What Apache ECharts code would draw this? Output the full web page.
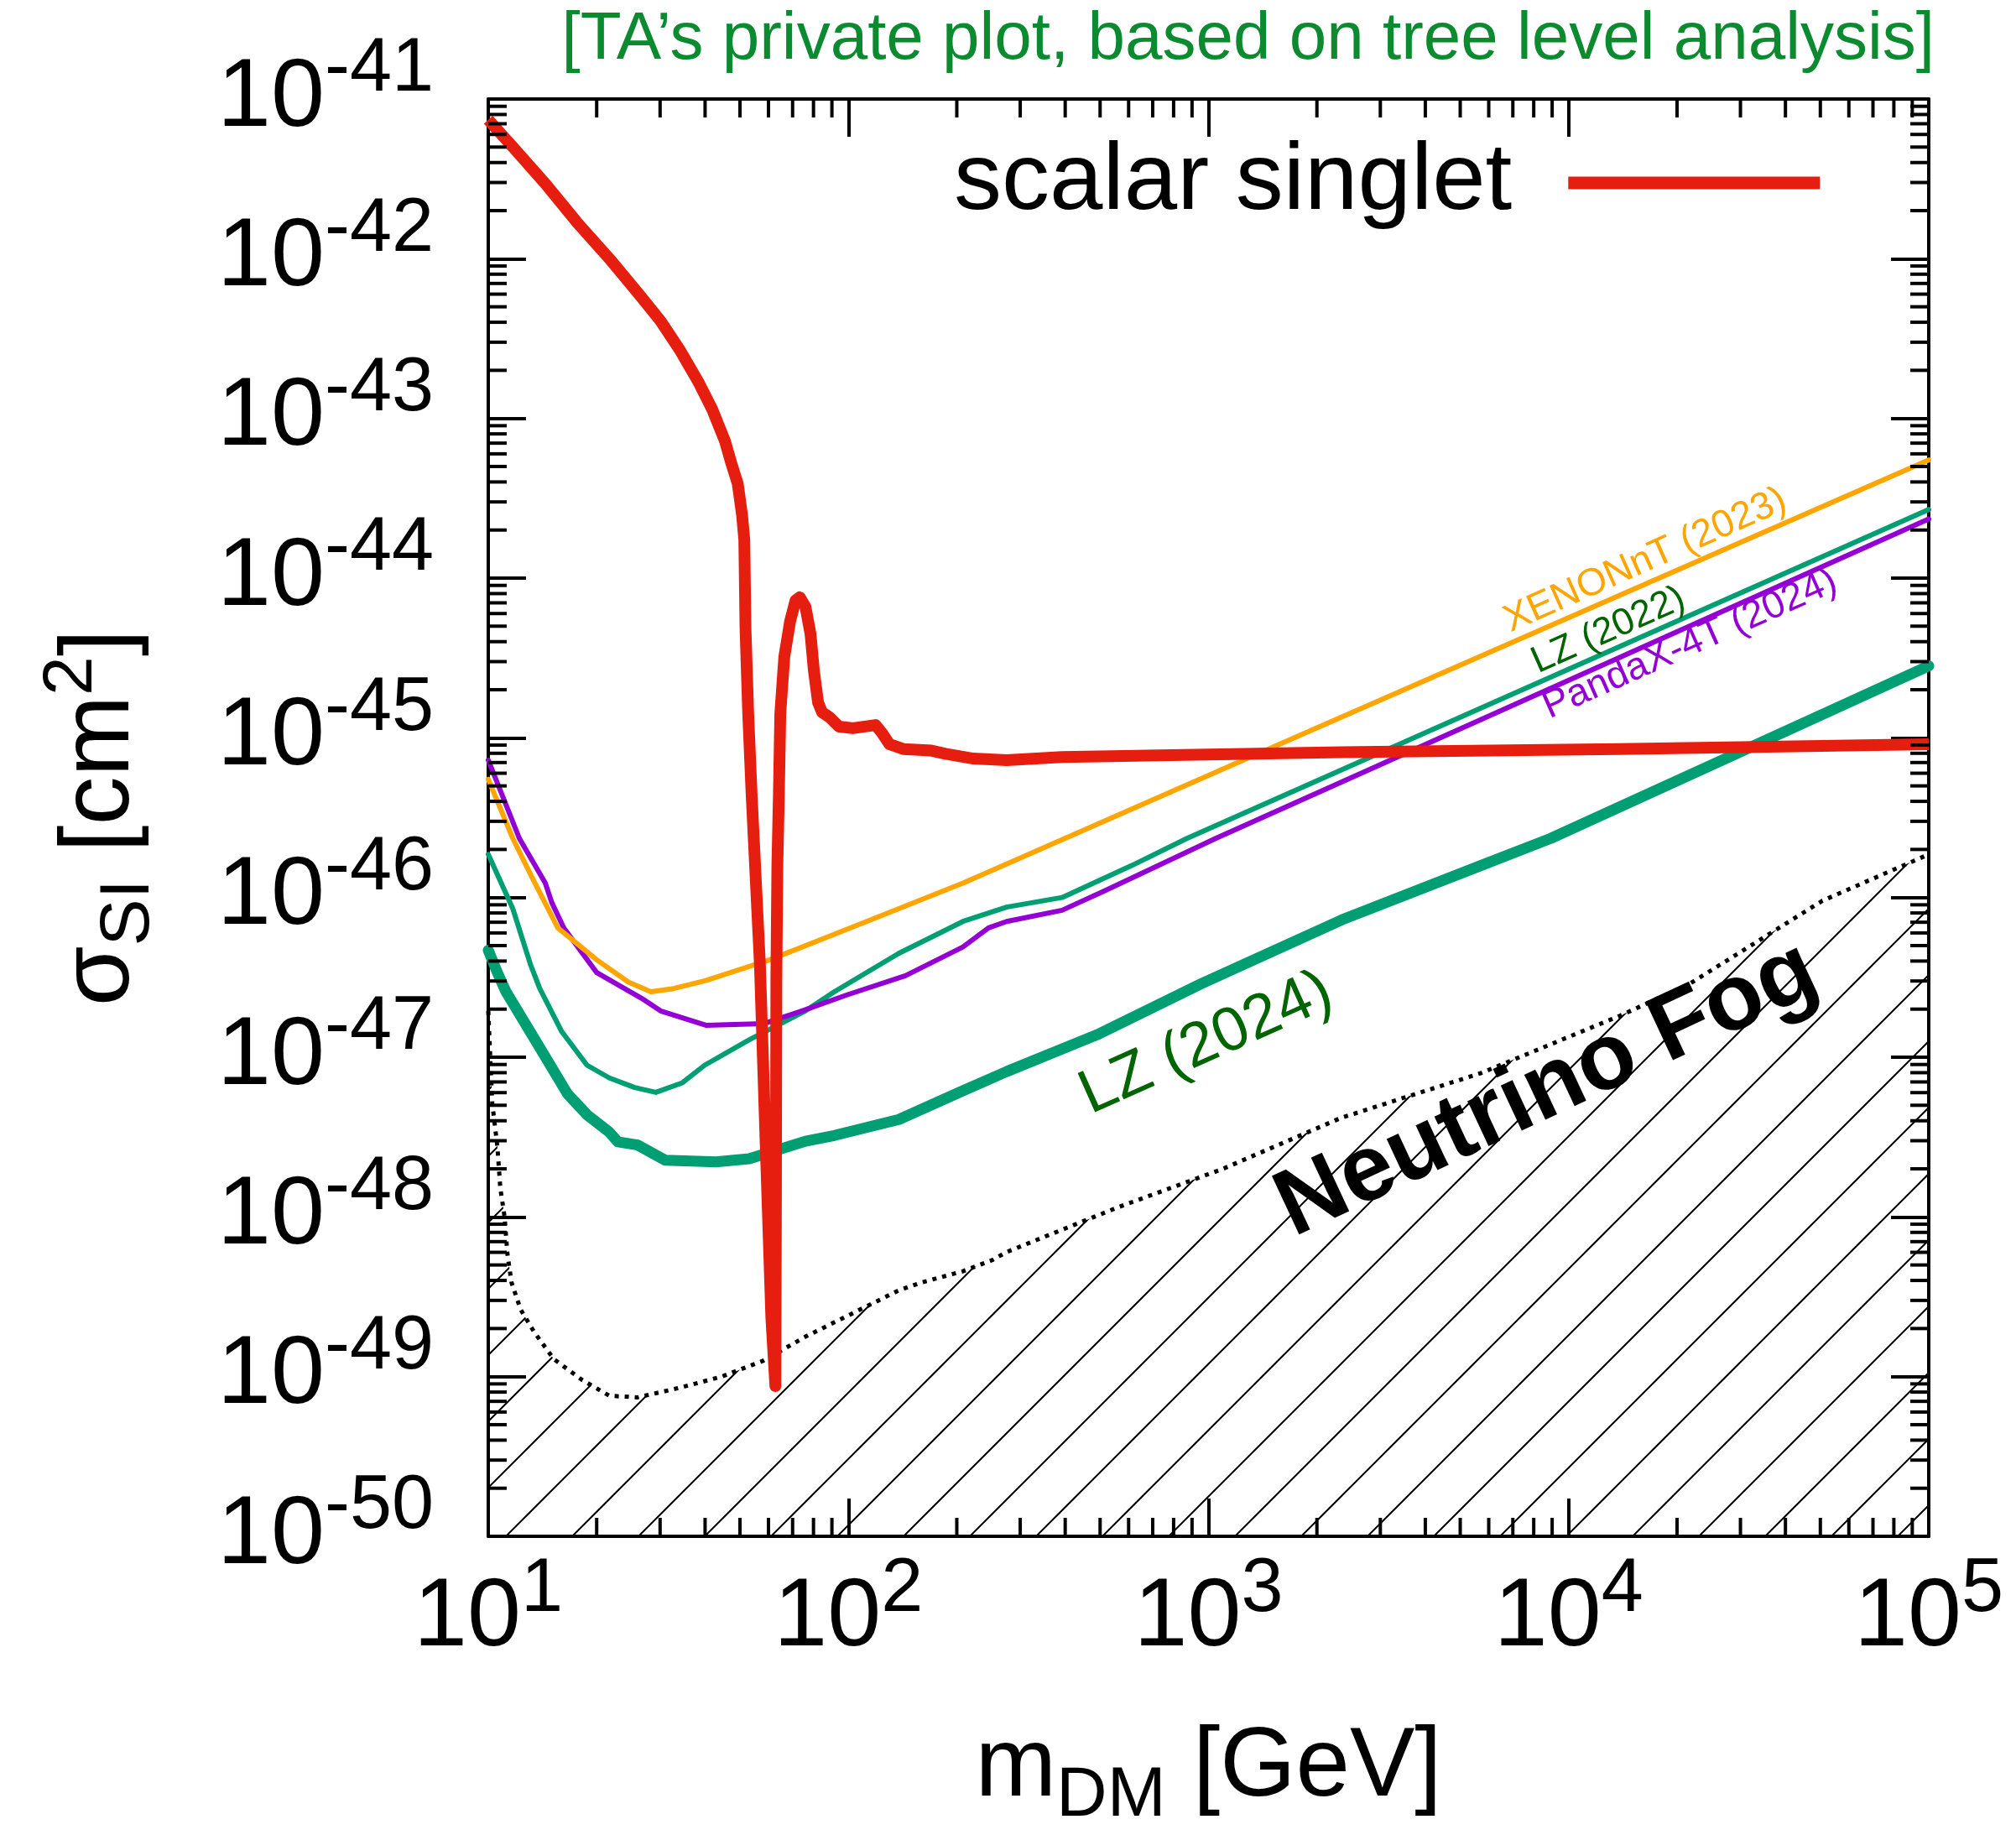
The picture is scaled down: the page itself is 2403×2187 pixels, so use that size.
<!DOCTYPE html>
<html>
<head>
<meta charset="utf-8">
<script src="https://cdn.jsdelivr.net/npm/echarts@6/dist/echarts.min.js"></script>
<style>
html,body{margin:0;padding:0;background:#ffffff;}
#c{width:2403px;height:2187px;}
</style>
</head>
<body>
<div id="c"></div>
<script>
// ---------------- data ----------------
// masses in GeV, cross sections given as log10(sigma / cm^2)
const redMass = [10, 11.7, 14.4, 17.6, 21.7, 26.6, 30.1, 34.0, 38.5, 41.8, 45.4, 47.3, 49.3, 50.7, 51.4, 51.8, 52.7, 53.9, 56.8, 58.9, 61.1, 62.7, 62.9, 63.1, 63.5, 64.1, 64.7, 66.4, 68.9, 71.3, 73.3, 76.0, 78.5, 80.2, 82.4, 84.5, 88.5, 94.2, 103, 119, 124, 130, 142, 170, 186, 222, 275, 392, 731, 2344, 13800, 100000];
const redLogSigma = [-41.13, -41.30, -41.53, -41.77, -42.00, -42.24, -42.39, -42.57, -42.78, -42.94, -43.14, -43.28, -43.41, -43.61, -43.76, -44.32, -44.85, -45.37, -46.42, -47.53, -48.63, -49.06, -48.0, -46.5, -45.8, -45.37, -44.85, -44.49, -44.27, -44.14, -44.12, -44.18, -44.35, -44.58, -44.78, -44.84, -44.87, -44.93, -44.94, -44.92, -44.97, -45.04, -45.07, -45.08, -45.10, -45.13, -45.14, -45.12, -45.11, -45.09, -45.07, -45.04];

const xenonMass = [10, 11.7, 13.2, 15.6, 20.0, 24.5, 28.3, 32.7, 40.2, 60.5, 91.4, 138, 208, 275, 1306, 100000];
const xenonLogSigma = [-45.26, -45.63, -45.87, -46.19, -46.39, -46.53, -46.59, -46.57, -46.52, -46.39, -46.23, -46.07, -45.91, -45.79, -45.12, -43.26];

const pandaMass = [10, 12.2, 14.4, 15.0, 16.2, 20.0, 26.6, 30.1, 40.2, 58.1, 74.3, 99.1, 144, 208, 245, 275, 392, 513, 1047, 100000];
const pandaLogSigma = [-45.14, -45.63, -45.91, -46.03, -46.19, -46.47, -46.63, -46.71, -46.80, -46.79, -46.71, -46.61, -46.49, -46.31, -46.19, -46.15, -46.08, -45.96, -45.63, -43.63];

const lz2022Mass = [10, 11.7, 13.1, 13.9, 16.0, 18.8, 21.7, 25.5, 29.2, 34.6, 39.9, 53.1, 76.0, 91.4, 138, 208, 275, 392, 612, 871, 100000];
const lz2022LogSigma = [-45.73, -46.07, -46.42, -46.57, -46.84, -47.05, -47.13, -47.19, -47.22, -47.16, -47.05, -46.89, -46.71, -46.59, -46.35, -46.15, -46.06, -46.00, -45.80, -45.63, -43.57];

const lz2024Mass = [10, 10.6, 11.2, 13.9, 16.6, 18.8, 21.7, 22.9, 26.0, 31.0, 42.9, 53.1, 76.0, 91.4, 138, 208, 275, 490, 955, 2344, 5702, 8913, 100000];
const lz2024LogSigma = [-46.33, -46.47, -46.59, -46.94, -47.23, -47.36, -47.47, -47.53, -47.55, -47.645, -47.655, -47.636, -47.526, -47.49, -47.39, -47.21, -47.09, -46.86, -46.54, -46.14, -45.80, -45.63, -44.55];

const fogMass = [10.0, 10.26, 10.6, 10.8, 11.1, 11.3, 11.6, 12.3, 13.4, 15.2, 18.2, 21.7, 26.0, 34.0, 44.5, 58.1, 76.0, 138, 160, 208, 251, 275, 560, 1094, 2333, 5702, 13900, 21700, 50700, 100000];
const fogLogSigma = [-46.71, -47.29, -47.56, -47.82, -48.00, -48.23, -48.41, -48.58, -48.72, -48.89, -49.02, -49.12, -49.13, -49.07, -49.00, -48.90, -48.75, -48.46, -48.41, -48.34, -48.27, -48.22, -47.94, -47.70, -47.38, -47.10, -46.74, -46.54, -46.02, -45.73];

// in-plot text labels (anchor in data coordinates)
const labelTexts = ['XENONnT (2023)', 'LZ (2022)', 'PandaX-4T (2024)', 'LZ (2024)', 'Neutrino Fog'];
const labelMass = [16330, 12910, 21730, 986, 8730];
const labelLogSigma = [-43.89, -44.328, -44.415, -46.917, -47.206];

// axes
const xMin = 10, xMax = 1e5;
const minorMultipliers = [2, 3, 4, 5, 6, 7, 8, 9];
const xDecades = [10, 100, 1000, 10000];
const yDecades = [1e-50, 1e-49, 1e-48, 1e-47, 1e-46, 1e-45, 1e-44, 1e-43, 1e-42];
const yBottom = 1e-50;

const titleText = '[TA\u2019s private plot, based on tree level analysis]';
const legendName = 'scalar singlet';

// ---------------- styles ----------------
const FONT = 'Liberation Sans';
const labelColors = ['#ffa500', '#006400', '#9400d3', '#006400', '#000000'];
const labelSizes = [46, 45, 46, 74, 112];
const labelWeights = ['normal', 'normal', 'normal', 'normal', 'bold'];
const labelRotates = [24, 24, 24, 24, 25];

function toData(ms, ls) { return ms.map((m, i) => [m, Math.pow(10, ls[i])]); }

function hatch() {
  const s = 79;
  const c = document.createElement('canvas');
  c.width = s; c.height = s;
  const g = c.getContext('2d');
  g.strokeStyle = '#000';
  g.lineWidth = 2;
  [64 - s, 64, 64 + s].forEach(o => {
    g.beginPath();
    g.moveTo(o + 12, -12);
    g.lineTo(-12, o + 12);
    g.stroke();
  });
  return c;
}

const tickRich = {
  b: {fontFamily: FONT, fontSize: 115, lineHeight: 115, color: '#000'},
  s: {fontFamily: FONT, fontSize: 90, lineHeight: 90, color: '#000', padding: [0, 0, 69, 0]}
};
function expLabel(v) {
  const e = Math.round(Math.log10(v));
  return '{b|10}{s|' + e + '}';
}

const nameRich = {
  b: {fontFamily: FONT, fontSize: 116, lineHeight: 116, color: '#000'},
  sub: {fontFamily: FONT, fontSize: 84, lineHeight: 84, color: '#000', padding: [66, 0, 0, 0]},
  sup: {fontFamily: FONT, fontSize: 84, lineHeight: 84, color: '#000', padding: [0, 0, 70, 0]}
};

const axisLineStyle = {color: '#000', width: 4};
function xAxisCfg(pos, main) {
  return {
    type: 'log', logBase: 10, min: xMin, max: xMax, position: pos, gridIndex: 0,
    axisLine: {show: true, onZero: false, lineStyle: axisLineStyle},
    axisTick: {show: true, inside: true, length: 45, lineStyle: {color: '#000', width: 4}},
    splitLine: {show: false},
    minorTick: {show: false},
    axisLabel: main ? {show: true, margin: 41, formatter: expLabel, rich: tickRich, showMinLabel: true, showMaxLabel: true, hideOverlap: false} : {show: false},
    name: main ? '{b|m}{sub|DM}{b| [GeV]}' : '',
    nameLocation: 'middle',
    nameGap: 219,
    nameMoveOverlap: false,
    nameTextStyle: {fontFamily: FONT, fontSize: 116, color: '#000', rich: nameRich}
  };
}
function yAxisCfg(pos, main) {
  // extent is left to the library's nice rounding of the data: [1e-50, 1e-41]
  return {
    type: 'log', logBase: 10, position: pos, gridIndex: 0,
    axisLine: {show: true, onZero: false, lineStyle: axisLineStyle},
    axisTick: {show: true, inside: true, length: 45, lineStyle: {color: '#000', width: 4}},
    splitLine: {show: false},
    minorTick: {show: false},
    axisLabel: main ? {show: true, margin: 65, formatter: expLabel, rich: tickRich, showMinLabel: true, showMaxLabel: true, hideOverlap: false} : {show: false},
    name: main ? '{b|\u03c3}{sub|SI}{b| [cm}{sup|2}{b|]}' : '',
    nameLocation: 'middle',
    nameRotate: 90,
    nameGap: 403,
    nameMoveOverlap: false,
    nameTextStyle: {fontFamily: FONT, fontSize: 116, color: '#000', rich: nameRich}
  };
}

const xMinorValues = [];
xDecades.forEach(d => minorMultipliers.forEach(k => xMinorValues.push(k * d)));
const yMinorValues = [];
yDecades.forEach(d => minorMultipliers.forEach(k => yMinorValues.push(k * d)));

const MINOR = 22;
const tickStyle = {stroke: '#000', lineWidth: 4};

const chart = echarts.init(document.getElementById('c'), null, {renderer: 'canvas'});
chart.setOption({
  animation: false,
  backgroundColor: '#ffffff',
  title: {
    text: titleText, right: 97, top: 8, padding: 0,
    textStyle: {fontFamily: FONT, fontSize: 80, fontWeight: 'normal', color: '#0b8a2f'}
  },
  legend: {
    data: [legendName], left: 1137, top: 151, padding: 0,
    align: 'right', icon: 'rect', itemWidth: 300, itemHeight: 15,
    selectedMode: false,
    textStyle: {fontFamily: FONT, fontSize: 114, lineHeight: 110, color: '#000', padding: [24, 62, 0, 0]}
  },
  grid: {left: 582, top: 118, width: 1717, height: 1713, containLabel: false, outerBoundsMode: 'none'},
  xAxis: [xAxisCfg('bottom', true), xAxisCfg('top', false)],
  yAxis: [yAxisCfg('left', true), yAxisCfg('right', false)],
  series: [
    {
      name: 'Neutrino Fog', type: 'line', xAxisIndex: 0, yAxisIndex: 0, z: 1,
      data: toData(fogMass, fogLogSigma), symbol: 'none', silent: true,
      lineStyle: {color: '#000', width: 5, type: [5, 7]},
      areaStyle: {origin: yBottom, opacity: 1, color: {image: hatch(), repeat: 'repeat'}}
    },
    {
      name: 'LZ (2024)', type: 'line', z: 2, data: toData(lz2024Mass, lz2024LogSigma), symbol: 'none',
      lineStyle: {color: '#009e73', width: 13, cap: 'round', join: 'round'}
    },
    {
      name: 'LZ (2022)', type: 'line', z: 2, data: toData(lz2022Mass, lz2022LogSigma), symbol: 'none',
      lineStyle: {color: '#009e73', width: 6, cap: 'round', join: 'round'}
    },
    {
      name: 'PandaX-4T (2024)', type: 'line', z: 2, data: toData(pandaMass, pandaLogSigma), symbol: 'none',
      lineStyle: {color: '#9400d3', width: 6, cap: 'round', join: 'round'}
    },
    {
      name: 'XENONnT (2023)', type: 'line', z: 2, data: toData(xenonMass, xenonLogSigma), symbol: 'none',
      lineStyle: {color: '#ffa500', width: 6, cap: 'round', join: 'round'}
    },
    {
      name: legendName, type: 'line', z: 3, data: toData(redMass, redLogSigma), symbol: 'none',
      color: '#e51e10',
      itemStyle: {color: '#e51e10'},
      lineStyle: {color: '#e51e10', width: 14, cap: 'butt', join: 'round'}
    },
    {
      name: 'labels', type: 'scatter', z: 5, symbolSize: 0, silent: true,
      itemStyle: {opacity: 1},
      data: labelTexts.map((t, i) => ({
        value: [labelMass[i], Math.pow(10, labelLogSigma[i])],
        label: {
          show: true, position: [0, 0], align: 'center', verticalAlign: 'middle',
          formatter: t, rotate: labelRotates[i], textBorderWidth: 0, opacity: 1,
          color: labelColors[i], fontSize: labelSizes[i], fontWeight: labelWeights[i], fontFamily: FONT
        }
      }))
    },
    {
      name: 'x minor ticks', type: 'custom', z: 6, silent: true, xAxisIndex: 0, yAxisIndex: 0,
      data: xMinorValues.map(v => [v, 1e-45]),
      renderItem: function (params, api) {
        const cs = params.coordSys;
        const x = api.coord([api.value(0), 1e-45])[0];
        const yb = cs.y + cs.height, yt = cs.y;
        return {type: 'group', children: [
          {type: 'line', shape: {x1: x, y1: yb, x2: x, y2: yb - MINOR}, style: tickStyle},
          {type: 'line', shape: {x1: x, y1: yt, x2: x, y2: yt + MINOR}, style: tickStyle}
        ]};
      }
    },
    {
      name: 'y minor ticks', type: 'custom', z: 6, silent: true, xAxisIndex: 0, yAxisIndex: 1,
      data: yMinorValues.map(v => [100, v]),
      renderItem: function (params, api) {
        const cs = params.coordSys;
        const y = api.coord([100, api.value(1)])[1];
        const xl = cs.x, xr = cs.x + cs.width;
        return {type: 'group', children: [
          {type: 'line', shape: {x1: xl, y1: y, x2: xl + MINOR, y2: y}, style: tickStyle},
          {type: 'line', shape: {x1: xr, y1: y, x2: xr - MINOR, y2: y}, style: tickStyle}
        ]};
      }
    }
  ]
});
</script>
</body>
</html>
